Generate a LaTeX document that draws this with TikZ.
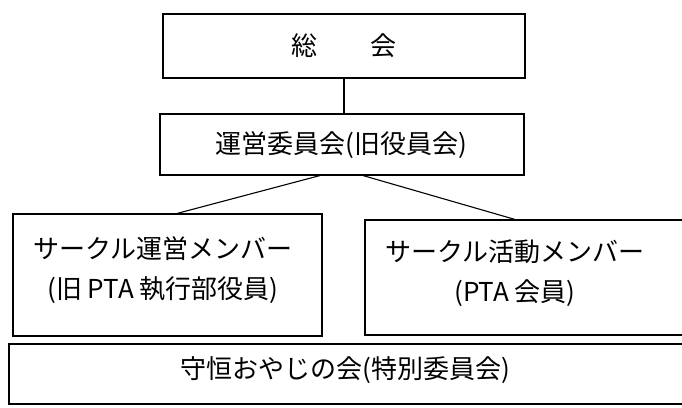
\documentclass[tikz,border=0pt]{standalone}
\usepackage{fontspec}
\setmainfont{Noto Sans CJK JP}
\begin{document}
\begin{tikzpicture}[x=1pt,y=-1pt,
  box/.style={draw, line width=1.1pt, rectangle, inner sep=0pt},
  txt/.style={font=\fontsize{26pt}{40pt}\selectfont, align=center, inner sep=0pt},
  link/.style={line width=1.1pt}]
\useasboundingbox (0,0) rectangle (682,407);
\clip (0,0) rectangle (682,407);
% boxes
\node[box, minimum width=362pt, minimum height=64pt] (top) at (344,46) {};
\node[txt] (toptext) at (344,46) {総\hspace{54pt}会};
\node[box, minimum width=364pt, minimum height=61pt] (mid) at (342,144.5) {};
\node[txt] (midtext) at (341,145) {運営委員会(旧役員会)};
\node[box, minimum width=309pt, minimum height=122pt] (left) at (167.5,275) {};
\node[txt] (lefttext) at (163,270) {サークル運営メンバー\\(旧 PTA 執行部役員)};
\node[box, minimum width=335pt, minimum height=115pt] (right) at (532.5,277.5) {};
\node[txt] (righttext) at (515,273) {サークル活動メンバー\\(PTA 会員)};
\node[box, minimum width=691pt, minimum height=60pt] (bottom) at (354.5,374) {};
\node[txt] (bottomtext) at (345,370) {守恒おやじの会(特別委員会)};
% connectors
\draw[link] (top.south) -- (top.south |- mid.north);
\draw[link] ([xshift=-22pt]mid.south) -- ([xshift=9.5pt]left.north);
\draw[link] ([xshift=21pt]mid.south) -- ([xshift=-17.5pt]right.north);
\end{tikzpicture}
\end{document}
